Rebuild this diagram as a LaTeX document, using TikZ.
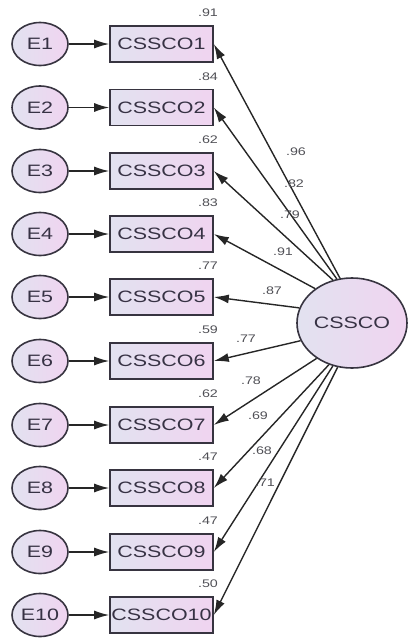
\documentclass[tikz,border=0pt]{standalone}
\usepackage{fontspec}
\setmainfont{Liberation Sans}
\usetikzlibrary{arrows.meta,shapes.geometric}
\definecolor{bd}{RGB}{55,52,64}
\definecolor{tx}{RGB}{55,50,68}
\definecolor{lb}{RGB}{80,80,86}
\definecolor{fl}{RGB}{226,226,240}
\definecolor{fr}{RGB}{240,212,240}
\newcommand{\wt}[1]{\scalebox{1.3}[1]{#1}}
\tikzset{
 base/.style={draw=bd, line width=1.6pt, inner sep=0pt, left color=fl, right color=fr, text=tx, font=\fontsize{16.5}{16.5}\selectfont},
 errnode/.style={base, ellipse, minimum width=56pt, minimum height=43pt},
 obsnode/.style={base, rectangle, minimum width=103pt, minimum height=36pt},
 latnode/.style={base, ellipse, minimum width=110pt, minimum height=90pt},
 arr/.style={draw=black!85, line width=1.4pt, -{Latex[length=15pt,width=9pt]}},
 lab/.style={font=\fontsize{11}{11}\selectfont, text=lb, inner sep=0pt}
}
\begin{document}
\begin{tikzpicture}[x=1pt,y=-1pt]
\useasboundingbox (0,0) rectangle (408,638);
\node[latnode] (L) at (352,323) {\wt{CSSCO}};
\foreach \i/\y/\r/\a/\p/\px/\py in {
 1/44/.91/105/.96/296/152,
 2/107.5/.84/109/.82/294/184,
 3/171/.62/114/.79/290/215,
 4/234/.83/137/.91/283/252,
 5/297/.77/164/.87/272/291,
 6/361/.59/199/.77/246/339,
 7/425/.62/225/.78/251/381,
 8/488/.47/241/.69/258/416,
 9/552/.47/246/.68/262/451,
 10/615/.50/252/.71/265/483}{
  \node[errnode] (E\i) at (40,\y) {\wt{E\i}};
  \node[obsnode] (C\i) at (161.5,\y) {\wt{CSSCO\i}};
  \draw[arr] (E\i) -- (C\i);
  \draw[arr] (L.\a) -- (C\i.east);
  \node[lab] (r\i) at (208,\y-31) {\wt{\r}};
  \node[lab] (p\i) at (\px,\py) {\wt{\p}};
}
\end{tikzpicture}
\end{document}
